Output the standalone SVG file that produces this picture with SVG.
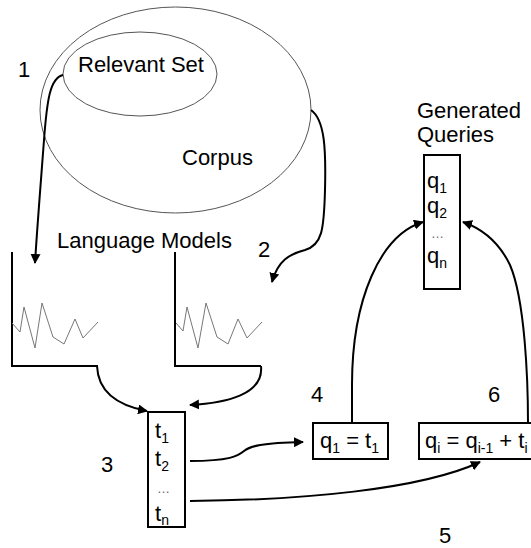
<svg xmlns="http://www.w3.org/2000/svg" width="531" height="548" viewBox="0 0 531 548">
<style>
text{font-family:"Liberation Sans",Arial,sans-serif;font-size:22px;fill:#000}
.sub{font-size:14px}
.dots{font-size:13px;fill:#666}
.ell{fill:none;stroke:#555;stroke-width:1}
.box{fill:#fff;stroke:#000;stroke-width:2}
.cont{fill:none;stroke:#000;stroke-width:2}
.zig{fill:none;stroke:#777;stroke-width:1}
.arr{fill:none;stroke:#000;stroke-width:2;marker-end:url(#ah)}
</style>
<defs>
<marker id="ah" viewBox="0 0 10 10" refX="9" refY="5" markerWidth="5" markerHeight="5" orient="auto" markerUnits="strokeWidth">
<path d="M0,0 L10,5 L0,10 Z" fill="#000"/>
</marker>
</defs>
<rect width="531" height="548" fill="#fff"/>
<g id="corpus">
<ellipse class="ell" cx="175.5" cy="110" rx="135.5" ry="103"/>
<text x="182" y="165">Corpus</text>
</g>
<g id="relevant-set">
<ellipse class="ell" cx="140" cy="74" rx="77" ry="42"/>
<text x="78" y="72">Relevant Set</text>
</g>
<g id="lm-title"><text x="57" y="248">Language Models</text></g>
<g id="lm-left">
<polyline class="cont" points="12,252 12,366 98,366"/>
<polyline class="zig" points="12,323 20,332 24,307 35,348 42,303 53,337 64,344 75,319 83,338 98,322"/>
</g>
<g id="lm-right">
<polyline class="cont" points="175,252 175,366 261,366"/>
<polyline class="zig" points="176,323 183,331 187,307 198,348 206,303 217,337 228,344 238,319 247,338 262,322"/>
</g>
<g id="terms">
<rect class="box" x="148" y="412" width="37" height="115"/>
<text x="155" y="438">t<tspan class="sub" dy="5">1</tspan></text>
<text x="155" y="466">t<tspan class="sub" dy="5">2</tspan></text>
<text class="dots" x="157" y="493">…</text>
<text x="155" y="521">t<tspan class="sub" dy="4">n</tspan></text>
</g>
<g id="queries">
<text x="417" y="118">Generated</text>
<text x="417" y="142">Queries</text>
<rect class="box" x="424" y="155" width="36" height="134"/>
<text x="427" y="188">q<tspan class="sub" dy="5">1</tspan></text>
<text x="427" y="213">q<tspan class="sub" dy="5">2</tspan></text>
<text class="dots" x="431" y="238">…</text>
<text x="427" y="263">q<tspan class="sub" dy="5">n</tspan></text>
</g>
<g id="q1-t1">
<rect class="box" x="313" y="423" width="75" height="36"/>
<text x="320" y="448">q<tspan class="sub" dy="5">1</tspan><tspan dy="-5"> = t</tspan><tspan class="sub" dy="5">1</tspan></text>
</g>
<g id="qi-rule">
<rect class="box" x="419" y="423" width="130" height="36"/>
<text x="425" y="448">q<tspan class="sub" dy="5">i</tspan><tspan dy="-5"> = q</tspan><tspan class="sub" dy="5">i-1</tspan><tspan dy="-5"> + t</tspan><tspan class="sub" dy="5">i</tspan></text>
</g>
<g id="labels">
<text x="18" y="77">1</text>
<text x="258" y="257">2</text>
<text x="101" y="472">3</text>
<text x="311" y="402">4</text>
<text x="439" y="543">5</text>
<text x="488" y="402">6</text>
</g>
<g id="connectors">
<path class="arr" d="M63,75 C50,78 47,100 44,140 C41,180 37,230 35,263"/>
<path class="arr" d="M311,110 C325,120 326,150 325,190 C324,230 322,245 305,250 C290,254 278,260 272,282"/>
<path class="arr" d="M97,366 C98,390 115,405 147,411"/>
<path class="arr" d="M261,366 C264,395 225,403 190,405"/>
<path class="arr" d="M190,461 C230,461 238,456 244,451 C250,446 262,443 303,442"/>
<path class="arr" d="M190,501 C300,500 420,490 480,462"/>
<path class="arr" d="M352,423 L352,385 C352,300 380,235 423,222"/>
<path class="arr" d="M528,423 C528,380 525,300 510,265 C498,240 480,228 463,222"/>
</g>
</svg>
